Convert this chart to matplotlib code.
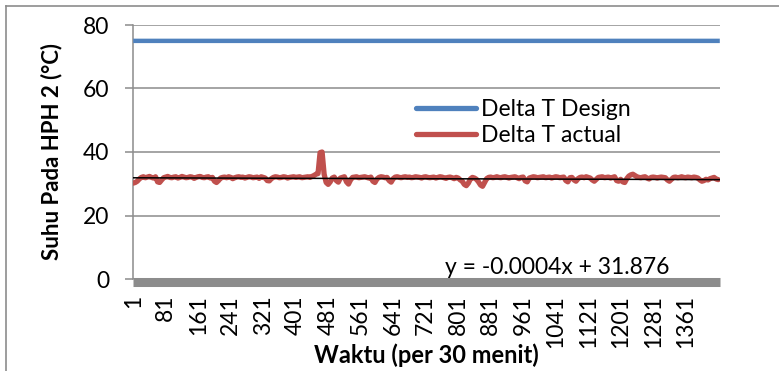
import matplotlib
matplotlib.use("Agg")
import matplotlib.pyplot as plt
from matplotlib.lines import Line2D
import numpy as np

plt.rcParams['font.family'] = ['Lato', 'DejaVu Sans']

# ---- data ----
n_categories = 1445
design_value = 75
actual_x = list(range(1, 1442, 5))
actual_values = [
    30.2, 30.4, 30.8, 31.5, 32.0, 32.2, 31.9, 32.1, 32.3, 32.0, 31.8, 32.2, 30.6, 30.4, 31.2, 31.9, 32.1, 32.3, 32.0, 31.9,
    32.1, 32.2, 31.8, 32.0, 32.3, 32.1, 31.9, 32.0, 32.2, 32.1, 31.7, 32.0, 32.2, 32.3, 32.0, 31.9, 32.1, 32.2, 31.8, 32.0,
    30.8, 30.4, 31.0, 31.8, 32.0, 32.1, 31.9, 32.2, 32.0, 31.6, 31.9, 32.1, 32.2, 32.0, 32.1, 31.8, 32.0, 32.2, 32.1, 31.9,
    32.0, 32.1, 31.7, 32.2, 32.0, 31.8, 31.0, 30.9, 31.6, 32.0, 32.2, 32.1, 31.9, 32.0, 32.2, 32.1, 31.8, 32.0, 32.1, 32.2,
    32.0, 32.1, 32.2, 31.9, 32.0, 32.1, 32.2, 32.0, 32.3, 32.6, 33.0, 33.2, 39.8, 40.0, 33.0, 30.4, 29.8, 30.6, 31.8, 32.1,
    31.0, 30.5, 31.8, 32.0, 32.2, 30.6, 29.9, 31.2, 32.0, 32.1, 32.2, 31.9, 32.0, 32.1, 32.2, 32.0, 31.8, 32.1, 30.8, 30.4,
    31.5, 32.0, 32.2, 32.1, 31.9, 32.0, 31.0, 30.5, 31.6, 32.1, 32.2, 32.0, 31.9, 32.1, 32.2, 32.0, 32.1, 31.9, 32.0, 32.2,
    32.1, 32.0, 31.8, 32.1, 32.2, 32.0, 31.9, 32.0, 32.1, 31.8, 32.0, 32.2, 32.1, 31.9, 31.7, 32.0, 32.1, 31.9, 31.6, 32.0,
    31.8, 31.2, 30.8, 29.8, 29.4, 30.2, 31.5, 32.0, 31.8, 31.4, 30.6, 29.6, 29.2, 30.4, 31.6, 32.0, 32.1, 31.9, 32.0, 32.2,
    32.0, 31.9, 32.1, 32.2, 32.0, 31.8, 32.0, 32.1, 32.2, 31.9, 31.6, 32.0, 32.1, 30.9, 30.6, 31.8, 32.0, 32.2, 32.1, 31.9,
    32.0, 32.1, 32.2, 31.9, 32.0, 32.1, 31.8, 32.0, 32.2, 32.1, 31.9, 32.0, 32.1, 31.0, 30.6, 31.9, 32.0, 31.2, 30.8, 31.6,
    32.0, 32.1, 31.9, 32.2, 32.0, 31.8, 31.2, 30.8, 31.4, 32.0, 32.1, 32.2, 31.9, 32.0, 32.1, 31.8, 32.0, 32.2, 31.0, 30.8,
    31.4, 30.6, 30.4, 31.6, 32.4, 32.8, 33.0, 32.6, 32.2, 32.0, 31.9, 32.1, 32.2, 31.8, 31.5, 32.0, 32.1, 32.0, 31.8, 32.0,
    32.1, 32.0, 31.9, 31.2, 30.8, 31.4, 32.0, 32.1, 31.9, 32.0, 32.2, 32.0, 31.9, 32.1, 32.0, 31.9, 32.1, 32.0, 31.8, 31.2,
    30.8, 31.0, 31.4, 31.2, 31.6, 31.8, 32.0, 31.5, 31.3,
]
trend_slope = -0.0004
trend_intercept = 31.876
x_tick_labels = [str(v) for v in range(1, 1362, 80)]
y_ticks = [0, 20, 40, 60, 80]
series_names = ["Delta T Design", "Delta T actual"]

# ---- figure ----
W, H = 779, 371
fig = plt.figure(figsize=(W / 100, H / 100), dpi=100)
ax = fig.add_axes([133 / W, (H - 279) / H, (720 - 133) / W, (279 - 25) / H])

cats = np.arange(1, n_categories + 1)
blue = '#4F81BD'
red = '#C0504D'
grid_c = '#8C8C8C'

ax.plot(cats, [design_value] * n_categories, color=blue, lw=3.2, solid_capstyle='butt',
        label=series_names[0], zorder=3)
ax.plot(actual_x, actual_values, color=red, lw=3.8, solid_capstyle='round',
        solid_joinstyle='round', label=series_names[1], zorder=3)
ax.plot(cats, trend_slope * cats + trend_intercept, color='black', lw=1.1, zorder=4)

ax.set_xlim(0.5, n_categories + 0.5)
ax.set_ylim(0, 80)
ax.set_yticks(y_ticks)
ax.set_xticks([int(s) for s in x_tick_labels])
ax.set_xticklabels(x_tick_labels)
ax.yaxis.grid(True, color=grid_c, lw=1.1)
ax.set_axisbelow(True)

for s in ['top', 'right']:
    ax.spines[s].set_visible(False)
ax.spines['left'].set_color(grid_c)
ax.spines['left'].set_linewidth(1.1)
ax.spines['bottom'].set_color(grid_c)
ax.spines['bottom'].set_linewidth(6.5)
ax.spines['bottom'].set_position(('outward', 2.5))
ax.spines['bottom'].set_capstyle('butt')

ax.tick_params(axis='y', length=6, width=1.1, color=grid_c, pad=11, labelsize=16.5)
ax.tick_params(axis='x', length=0, pad=9, labelsize=16.5, labelrotation=90)

ax.set_ylabel("Suhu Pada HPH 2 (°C)", fontsize=16, fontweight='bold')
ax.yaxis.set_label_coords((62 - 133) / (720 - 133), 0.5)
fig.text(426 / W, 1 - 355 / H, "Waktu (per 30 menit)", fontsize=17, fontweight='bold',
         ha='center', va='center')

ax.text(445 / W, 1 - 268 / H, "y = -0.0004x + 31.876", transform=fig.transFigure,
        fontsize=16.5, ha='left', va='center')

leg = ax.legend(loc='upper left', bbox_to_anchor=(405 / W, 1 - 88 / H),
                bbox_transform=fig.transFigure, frameon=False, fontsize=16.5,
                handlelength=2.6, handletextpad=0.2, labelspacing=0.2, borderpad=0)
for h in leg.get_lines():
    h.set_linewidth(3.8)
    h.set_solid_capstyle('round')

# outer chart border (left and top visible)
fig.add_artist(Line2D([6 / W, 6 / W], [0, 1 - 6 / H], transform=fig.transFigure,
                      color='#8C8C8C', lw=1.2))
fig.add_artist(Line2D([6 / W, 1], [1 - 6 / H, 1 - 6 / H], transform=fig.transFigure,
                      color='#8C8C8C', lw=1.2))

fig.savefig("out.png", dpi=100)
